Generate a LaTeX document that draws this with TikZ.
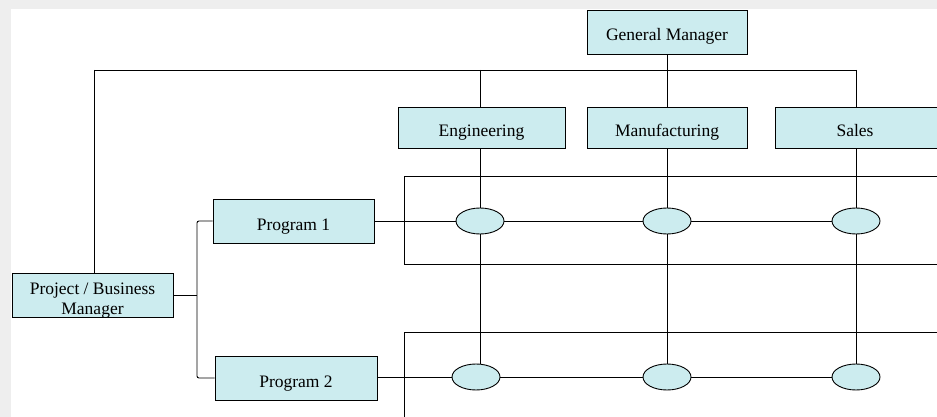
\documentclass[tikz,border=0pt]{standalone}
\usepackage{fontspec}
\setmainfont{Liberation Serif}
\usetikzlibrary{shapes.geometric}
\definecolor{boxfill}{HTML}{CCECEF}
\definecolor{bggray}{HTML}{EEEEEE}
\begin{document}
\begin{tikzpicture}[x=1pt,y=-1pt,
  line width=0.9pt,
  box/.style={draw=black, fill=boxfill, rectangle, inner sep=0pt, text height=18pt, text depth=0pt, font=\fontsize{17.5}{20}\selectfont},
  oval/.style={draw=black, fill=boxfill, ellipse, minimum width=48pt, minimum height=26pt, inner sep=0pt},
  wire/.style={draw=black, line width=0.9pt}]
\useasboundingbox (0,0) rectangle (937,417);
\fill[bggray] (0,0) rectangle (937,417);
\fill[white] (11,9) rectangle (937,417);

% frames
\draw[wire] (950,176) -- (404,176) -- (404,264) -- (950,264);
\draw[wire] (950,332) -- (404,332) -- (404,430);

% top boxes
\node[box, minimum width=160pt, minimum height=44pt] (gm) at (667,32) {General Manager};
\node[box, minimum width=167pt, minimum height=41pt] (eng) at (481.5,127.5) {Engineering};
\node[box, minimum width=160pt, minimum height=41pt] (mfg) at (667,127.5) {Manufacturing};
\node[box, minimum width=166pt, minimum height=41pt] (sal) at (858,127.5) {\hspace*{-6pt}Sales};

% left boxes
\node[box, minimum width=161pt, minimum height=44pt] (pm) at (92.5,295) {};
\node[inner sep=0pt, align=center, font=\fontsize{17.5}{20}\selectfont] (pmtext) at ([yshift=-5.5pt]pm.center) {Project / Business\\Manager};
\node[box, minimum width=161pt, minimum height=44pt] (p1) at (293.5,221) {Program 1};
\node[box, minimum width=162pt, minimum height=44pt] (p2) at (296,378) {Program 2};

% ellipses
\node[oval] (e11) at (480,221) {};
\node[oval] (e12) at (667,221) {};
\node[oval] (e13) at (856,221) {};
\node[oval] (e21) at (476,377) {};
\node[oval] (e22) at (667,377) {};
\node[oval] (e23) at (856,377) {};

% coordinates
\coordinate (tl) at (94,70);
\coordinate (tr) at (856,70);
\coordinate (bus) at (197,295);

% top tree
\draw[wire] (gm.south) -- (gm.south |- tl);
\draw[wire] (tl) -- (tr);
\draw[wire] (tl) -- (tl |- pm.north);
\draw[wire] (e11 |- tl) -- (e11 |- eng.north);
\draw[wire] (mfg.north) -- (mfg.north |- tl);
\draw[wire] (tr) -- (tr |- sal.north);

% columns
\draw[wire] (e11 |- eng.south) -- (e11.north);
\draw[wire] (e11.south) -- (e11 |- e21.north);
\draw[wire] (mfg.south) -- (e12.north);
\draw[wire] (e12.south) -- (e22.north);
\draw[wire] (e13 |- sal.south) -- (e13.north);
\draw[wire] (e13.south) -- (e23.north);

% program bus
\draw[wire] (pm.east) -- (bus);
\draw[wire, rounded corners=2pt] (p1.west) -- (p1.west -| bus) -- (p2.west -| bus) -- (p2.west);

% rows
\draw[wire] (p1.east) -- (e11.west);
\draw[wire] (e11.east) -- (e12.west);
\draw[wire] (e12.east) -- (e13.west);
\draw[wire] (p2.east |- e21) -- (e21.west);
\draw[wire] (e21.east) -- (e22.west);
\draw[wire] (e22.east) -- (e23.west);
\end{tikzpicture}
\end{document}
